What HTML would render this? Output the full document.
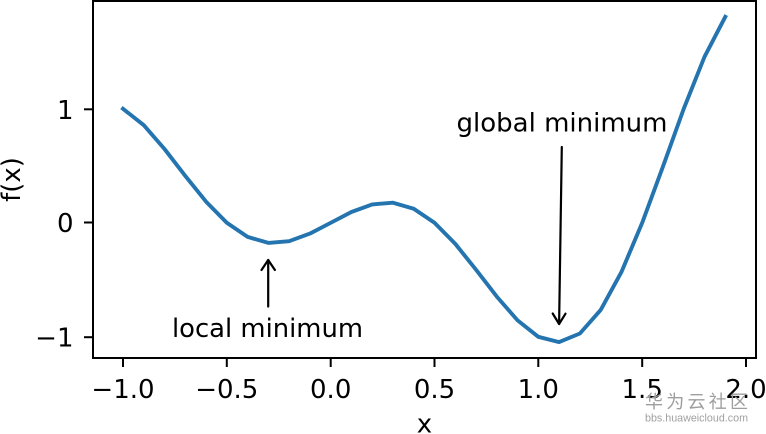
<!DOCTYPE html>
<html>
<head>
<meta charset="utf-8">
<style>
html,body{margin:0;padding:0;background:#fff;}
svg{display:block;}
text{font-family:"DejaVu Sans","Liberation Sans",sans-serif;fill:#000;}
.wm{fill:#9e9e9e;font-family:"Noto Sans CJK SC","WenQuanYi Zen Hei",sans-serif;font-size:18px;}
</style>
</head>
<body>
<svg width="766" height="434" viewBox="0 0 766 434" xmlns="http://www.w3.org/2000/svg">
  <rect x="0" y="0" width="766" height="434" fill="#fff"/>
  <!-- data line -->
  <polyline fill="none" stroke="#2474b0" stroke-width="3.9" stroke-linejoin="round" stroke-linecap="square"
    points="123.0,108.8 143.8,125.2 164.5,149.0 185.3,175.9 206.1,201.7 226.8,222.8 247.6,236.9 268.4,242.9 289.1,241.2 309.9,233.6 330.7,222.8 351.4,212.0 372.2,204.4 393.0,202.7 413.7,208.7 434.5,222.8 455.3,243.9 476.0,269.7 496.8,296.6 517.6,320.4 538.3,336.8 559.1,342.1 579.9,333.5 600.7,309.9 621.4,272.1 642.2,222.8 663.0,166.4 683.7,108.9 704.5,56.8 725.3,16.8"/>
  <!-- axes frame -->
  <rect x="93" y="1" width="663" height="357" fill="none" stroke="#000" stroke-width="2"/>
  <!-- ticks -->
  <g stroke="#000" stroke-width="2">
    <line x1="123" y1="358" x2="123" y2="367"/>
    <line x1="226.8" y1="358" x2="226.8" y2="367"/>
    <line x1="330.7" y1="358" x2="330.7" y2="367"/>
    <line x1="434.5" y1="358" x2="434.5" y2="367"/>
    <line x1="538.3" y1="358" x2="538.3" y2="367"/>
    <line x1="642.2" y1="358" x2="642.2" y2="367"/>
    <line x1="746" y1="358" x2="746" y2="367"/>
    <line x1="84" y1="109.3" x2="93" y2="109.3"/>
    <line x1="84" y1="222.5" x2="93" y2="222.5"/>
    <line x1="84" y1="337.2" x2="93" y2="337.2"/>
  </g>
  <g font-size="26" text-anchor="middle">
    <text x="123" y="398">−1.0</text>
    <text x="226.8" y="398">−0.5</text>
    <text x="330.7" y="398">0.0</text>
    <text x="434.5" y="398">0.5</text>
    <text x="538.3" y="398">1.0</text>
    <text x="642.2" y="398">1.5</text>
    <text x="746" y="398">2.0</text>
  </g>
  <g font-size="26" text-anchor="end">
    <text x="73.5" y="118.8">1</text>
    <text x="73.5" y="232">0</text>
    <text x="73.5" y="346.7">−1</text>
  </g>
  <text x="424.5" y="432.5" font-size="26" text-anchor="middle">x</text>
  <text transform="translate(20,179.5) rotate(-90)" font-size="26" text-anchor="middle">f(x)</text>
  <!-- annotations -->
  <text x="172" y="337" font-size="26" textLength="191" lengthAdjust="spacingAndGlyphs">local minimum</text>
  <text x="456.5" y="131.5" font-size="26" textLength="211" lengthAdjust="spacingAndGlyphs">global minimum</text>
  <g stroke="#000" stroke-width="2.2" fill="none" stroke-linecap="round" stroke-linejoin="round">
    <line x1="268.2" y1="306.5" x2="268.2" y2="260"/>
    <polyline points="261.5,270 268.2,260 274.9,270"/>
    <line x1="561.8" y1="147" x2="559.1" y2="324"/>
    <polyline points="552.7,313.5 559.1,324 565.5,313.7"/>
  </g>
  <!-- watermark -->
  <text class="wm" x="645" y="408">华</text>
  <text class="wm" x="666.3" y="408">为</text>
  <text class="wm" x="687.5" y="408">云</text>
  <text class="wm" x="708.8" y="408">社</text>
  <text class="wm" x="730" y="408">区</text>
  <text x="645" y="421.5" font-size="11" textLength="103" lengthAdjust="spacingAndGlyphs" style="fill:#a0a0a0;font-family:'Liberation Sans',sans-serif;">bbs.huaweicloud.com</text>
</svg>
</body>
</html>
